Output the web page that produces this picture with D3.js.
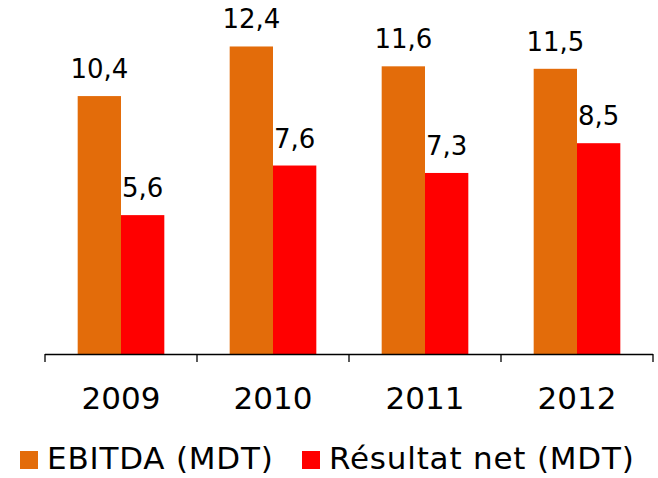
<!DOCTYPE html>
<html>
<head>
<meta charset="utf-8">
<script src="https://cdn.jsdelivr.net/npm/d3@7"></script>
<style>
  body { margin: 0; background: #fff; }
  svg text { font-family: "DejaVu Sans", Verdana, sans-serif; fill: #000; }
</style>
</head>
<body>
<svg id="chart" width="658" height="478"></svg>
<script>
var years = ["2009", "2010", "2011", "2012"];
var ebitda = [10.4, 12.4, 11.6, 11.5];
var resultat = [5.6, 7.6, 7.3, 8.5];
var series_names = ["EBITDA (MDT)", "Résultat net (MDT)"];
var series_colors = ["#e36c0a", "#ff0000"];

var svg = d3.select("#chart");

// x: one band per year, axis from 45 to 653
var x = d3.scaleBand()
    .domain(years)
    .range([45, 653])
    .paddingInner(0.43)
    .paddingOuter(0.215);

var x_full = d3.scaleBand().domain(years).range([45, 653]);

var y = d3.scaleLinear()
    .domain([0, 14])
    .range([354, 6.8]);

var bar_w = x.bandwidth() / 2;

var rows = years.map(function(yr, i) {
  return {year: yr, values: [ebitda[i], resultat[i]]};
});

var groups = svg.selectAll("g.year")
    .data(rows)
    .enter().append("g")
      .attr("class", "year")
      .attr("transform", function(d) { return "translate(" + x(d.year) + ",0)"; });

groups.selectAll("rect")
    .data(function(d) { return d.values; })
    .enter().append("rect")
      .attr("x", function(d, i) { return i * bar_w; })
      .attr("y", function(d) { return y(d); })
      .attr("width", bar_w)
      .attr("height", function(d) { return y(0) - y(d); })
      .attr("fill", function(d, i) { return series_colors[i]; });

// value labels over the bars
groups.selectAll("text")
    .data(function(d) { return d.values; })
    .enter().append("text")
      .attr("x", function(d, i) { return i * bar_w + bar_w / 2; })
      .attr("y", function(d) { return y(d) - 18; })
      .attr("text-anchor", "middle")
      .style("font-size", "26px")
      .text(function(d) { return d3.format(".1f")(d).replace(".", ","); });

// axis line with ticks at the band boundaries
svg.append("line")
    .attr("x1", 45).attr("x2", 653)
    .attr("y1", 354.5).attr("y2", 354.5)
    .attr("stroke", "#000").attr("stroke-width", 1.3);

var bounds = years.map(function(d) { return x_full(d); }).concat([653]);
svg.selectAll("line.tick")
    .data(bounds)
    .enter().append("line")
      .attr("class", "tick")
      .attr("x1", function(d) { return d; }).attr("x2", function(d) { return d; })
      .attr("y1", 354).attr("y2", 362)
      .attr("stroke", "#000").attr("stroke-width", 1.3);

svg.selectAll("text.cat")
    .data(years)
    .enter().append("text")
      .attr("class", "cat")
      .attr("x", function(d) { return x_full(d) + x_full.bandwidth() / 2; })
      .attr("y", 409)
      .attr("text-anchor", "middle")
      .style("font-size", "31px")
      .text(function(d) { return d; });

// legend
var legend_x = [20, 302];
var legend = svg.selectAll("g.legend")
    .data(series_names)
    .enter().append("g")
      .attr("class", "legend")
      .attr("transform", function(d, i) { return "translate(" + legend_x[i] + ",0)"; });

legend.append("rect")
    .attr("x", 0).attr("y", 451)
    .attr("width", 18).attr("height", 18)
    .attr("fill", function(d, i) { return series_colors[i]; });

legend.append("text")
    .attr("x", 27).attr("y", 469)
    .style("font-size", "31px")
    .style("letter-spacing", "0.8px")
    .text(function(d) { return d; });
</script>
</body>
</html>
